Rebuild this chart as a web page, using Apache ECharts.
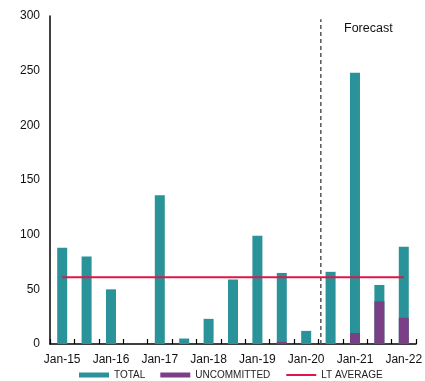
<!DOCTYPE html>
<html>
<head>
<meta charset="utf-8">
<script src="https://cdn.jsdelivr.net/npm/echarts@6/dist/echarts.min.js"></script>
<style>
  html, body { margin: 0; padding: 0; background: #fff; }
  #chart { width: 425px; height: 381px; }
</style>
</head>
<body>
<div id="chart"></div>
<script>
// Half-yearly periods
const categories = ['Jan-15', 'Jul-15', 'Jan-16', 'Jul-16', 'Jan-17', 'Jul-17', 'Jan-18', 'Jul-18',
                    'Jan-19', 'Jul-19', 'Jan-20', 'Jul-20', 'Jan-21', 'Jul-21', 'Jan-22'];
const totalValues = [88, 80, 50, 0, 136, 5, 23, 59, 99, 65, 12, 66, 248, 54, 89];
const uncommittedValues = [0, 0, 0, 0, 0, 0, 0, 0, 0, 2, 0, 0, 10, 39, 24];
const ltAverage = 61;
const forecastStart = 10.6;   // position between Jan-20 and Jul-20 (category index units)
const yTicks = { min: 0, max: 300, step: 50 };

const font = '"Liberation Sans", Arial, sans-serif';
const chart = echarts.init(document.getElementById('chart'), null, { renderer: 'canvas' });

chart.setOption({
  animation: false,
  textStyle: { fontFamily: font },
  grid: { left: 50, right: 5, top: 16, bottom: 37 },
  legend: {
    left: 74, bottom: -4,
    itemWidth: 30, itemHeight: 5, itemGap: 15,
    textStyle: { fontSize: 10, color: '#222', fontFamily: font },
    data: [
      { name: 'TOTAL', icon: 'rect' },
      { name: 'UNCOMMITTED', icon: 'rect' },
      { name: 'LT AVERAGE', itemStyle: { opacity: 0 } }
    ]
  },
  xAxis: [
    {
      type: 'category',
      data: categories,
      boundaryGap: true,
      axisLine: { lineStyle: { color: '#000', width: 1.5 } },
      axisTick: { show: true, inside: true, length: 5, interval: 0, alignWithLabel: false,
                  lineStyle: { color: '#000', width: 1.2 } },
      axisLabel: { interval: 1, fontSize: 12, color: '#111', margin: 10 },
      splitLine: { show: false }
    },
    {
      type: 'value', min: -0.5, max: categories.length - 0.5,
      show: false
    }
  ],
  yAxis: {
    type: 'value',
    min: yTicks.min, max: yTicks.max, interval: yTicks.step,
    axisLine: { show: true, onZero: false, lineStyle: { color: '#000', width: 1.5 } },
    axisTick: { show: false },
    splitLine: { show: false },
    axisLabel: { fontSize: 12, color: '#111', margin: 10 }
  },
  graphic: [
    {
      type: 'text', left: 344, top: 22,
      style: { text: 'Forecast', font: '12.5px ' + font, fill: '#111' }
    }
  ],
  series: [
    {
      name: 'TOTAL', type: 'bar', data: totalValues,
      barWidth: 10,
      itemStyle: { color: '#2A939A' }
    },
    {
      name: 'UNCOMMITTED', type: 'bar', data: uncommittedValues,
      barWidth: 10, barGap: '-100%',
      itemStyle: { color: '#7B3F86' }
    },
    {
      name: 'LT AVERAGE', type: 'line',
      data: categories.map(() => ltAverage),
      symbol: 'none', z: 5,
      lineStyle: { color: '#E0154A', width: 2 },
      itemStyle: { color: '#E0154A' }
    },
    {
      name: 'forecast-divider', type: 'line',
      xAxisIndex: 1,
      data: [[forecastStart, 0], [forecastStart, 297]],
      symbol: 'none', z: 4,
      lineStyle: { color: '#555', width: 1.5, type: [4, 3] },
      silent: true
    }
  ]
});
</script>
</body>
</html>
